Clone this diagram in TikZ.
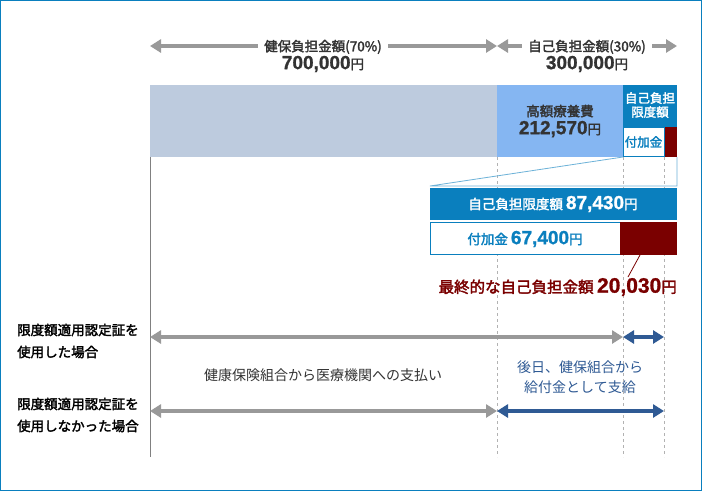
\documentclass[tikz,border=0pt]{standalone}
\usepackage{fontspec}
\setmainfont{Noto Sans CJK JP}
\newfontfamily\jpb{Noto Sans CJK JP}[FakeBold=2.2]
\newfontfamily\numf{Liberation Sans}[FakeBold=1]
\usetikzlibrary{arrows.meta}
\definecolor{dblue}{HTML}{0A7FBE}
\definecolor{lblue}{HTML}{85B6F2}
\definecolor{gblue}{HTML}{BDCBDE}
\definecolor{dred}{HTML}{7A0000}
\definecolor{garr}{HTML}{999999}
\definecolor{barr}{HTML}{2F5A94}
\definecolor{txt}{HTML}{333333}
\newcommand\bnum[1]{{\numf\bfseries\fontsize{19}{20}\selectfont #1}}
\tikzset{
  garrow/.style={draw=garr,line width=4pt,{Triangle[width=13pt,length=11pt]}-{Triangle[width=13pt,length=11pt]}},
  barrow/.style={draw=barr,line width=4pt,{Triangle[width=13pt,length=11pt]}-{Triangle[width=13pt,length=11pt]}},
  vdash/.style={draw=black!30,dashed,line width=0.6pt},
  lbl/.style={font=\jpb\fontsize{13.5}{15}\selectfont,text=txt,align=center,inner sep=1pt},
}
\begin{document}
\begin{tikzpicture}[x=1pt,y=-1pt]
\draw[dblue,line width=1pt,fill=white] (0.5,0.5) rectangle (701.5,490.5);
\useasboundingbox (0,0) rectangle (702,491);
% verticals
\draw[black!50,line width=0.6pt] (150,157) -- (150,457);
\draw[vdash] (497,157) -- (497,457);
\draw[vdash] (623,157) -- (623,457);
\draw[vdash] (664,157) -- (664,457);
% top arrows
\coordinate (tl) at (150,46); \coordinate (tm) at (497,46); \coordinate (tr) at (677,46);
\draw[garrow] (tl) -- (tm);
\draw[garrow] (tm) -- (tr);
\node[lbl,fill=white,inner xsep=6pt] (t1) at (323,56) {健保負担金額(70\%)\\[1pt]\bnum{700,000}円};
\node[lbl,fill=white,inner xsep=6pt] (t2) at (587,56) {自己負担金額(30\%)\\[1pt]\bnum{300,000}円};
% bar
\fill[gblue] (150,85) rectangle (497,157);
\fill[lblue] (497,85) rectangle (623,157);
\fill[dblue] (623,85) rectangle (677,157);
\fill[dred] (664,127) rectangle (677,157);
\draw[dblue,fill=white,line width=0.8pt] (623.5,127) rectangle (664,156.5);
\node[lbl] (kg) at (560,121) {高額療養費\\[3pt]\bnum{212,570}円};
\node[lbl,text=white,font=\jpb\fontsize{12.5}{14}\selectfont] (jg) at (650,105) {自己負担\\限度額};
\node[lbl,text=dblue,font=\jpb\fontsize{12.5}{14}\selectfont] (fk) at (643.5,142) {付加金};
% zoom outline
\draw[dblue!60,line width=0.8pt] (623,157) -- (430,186) -- (677,186) -- (677,157);
\fill[dblue] (430,188) rectangle (677,220);
\node[lbl,text=white] (g1) at (553,204) {自己負担限度額 \bnum{87,430}円};
\draw[dblue,fill=white,line width=0.8pt] (430.5,222.5) rectangle (620,254);
\fill[dred] (620,222) rectangle (677,255);
\node[lbl,text=dred!0,text=dblue] (g2) at (525,239) {付加金 \bnum{67,400}円};
\node[lbl,text=dred,anchor=east,font=\jpb\fontsize{15.5}{16}\selectfont] (fin) at (678,287) {最終的な自己負担金額 {\numf\bfseries\fontsize{21}{22}\selectfont 20,030}円};
\draw[dred,line width=0.8pt] (640,255) -- (628,277);
% rows
\node[lbl,anchor=west,align=left,text=black,font=\jpb\fontsize{13.5}{22}\selectfont] (r1) at (16,341) {限度額適用認定証を\\使用した場合};
\node[lbl,anchor=west,align=left,text=black,font=\jpb\fontsize{13.5}{22}\selectfont] (r2) at (16,415) {限度額適用認定証を\\使用しなかった場合};
\coordinate (a1) at (150,337); \coordinate (a2) at (623,337); \coordinate (a3) at (664,337);
\draw[garrow] (a1) -- (a2);
\draw[barrow] (a2) -- (a3);
\coordinate (b1) at (150,411); \coordinate (b2) at (497,411); \coordinate (b3) at (664,411);
\draw[garrow] (b1) -- (b2);
\draw[barrow] (b2) -- (b3);
\node[font=\fontsize{14}{15}\selectfont,text=txt] (m1) at (323,375) {健康保険組合から医療機関への支払い};
\node[font=\fontsize{14}{20}\selectfont,text=barr,align=center] (m2) at (580,377) {後日、健保組合から\\給付金として支給};
\end{tikzpicture}
\end{document}
